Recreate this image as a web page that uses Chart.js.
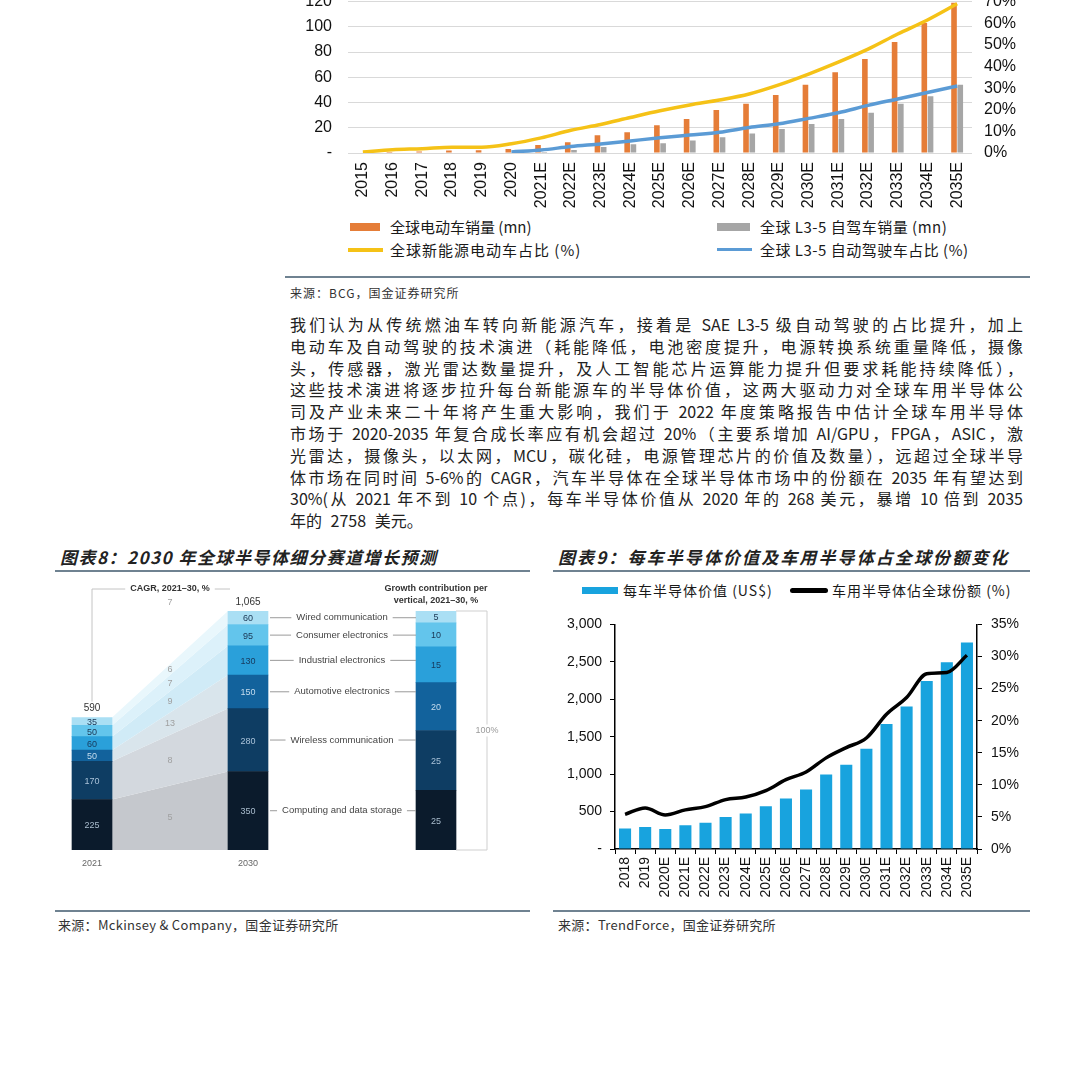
<!DOCTYPE html>
<html>
<head>
<meta charset="utf-8">
<script src="https://cdn.jsdelivr.net/npm/chart.js@4"></script>
<style>
body{margin:0;width:1080px;height:1080px;background:#fff;position:relative;overflow:hidden;font-family:"Noto Sans CJK SC","Liberation Sans",sans-serif;color:#1a1a1a}
canvas{position:absolute}
.rule{position:absolute;height:2px;background:#6f8291}
.src{position:absolute;font-size:13px;color:#333;white-space:nowrap;letter-spacing:0.3px}
.para{position:absolute;left:290px;top:314px;width:733px;font-size:16px;color:#222}
.para div{text-align:justify;text-align-last:justify;height:21.8px;line-height:21.8px;white-space:nowrap}
.para div.last{text-align-last:left;white-space:pre;word-spacing:5px}
.title{position:absolute;font-size:17px;font-weight:bold;font-style:italic;color:#222;white-space:nowrap}
.leg{position:absolute;display:flex;align-items:center;white-space:nowrap}
</style>
</head>
<body>

<canvas id="c1" width="740" height="237" style="left:290px;top:-24px"></canvas>

<div class="leg" style="left:350px;top:216px;font-size:15px;letter-spacing:0"><span style="display:inline-block;width:30px;height:8px;background:#e57d38;margin-right:10px"></span>全球电动车销量 (mn)</div>
<div class="leg" style="left:717px;top:216px;font-size:15px;letter-spacing:0.5px"><span style="display:inline-block;width:33px;height:8px;background:#a6a6a6;margin-right:10px"></span>全球 L3-5 自驾车销量 (mn)</div>
<div class="leg" style="left:348px;top:239px;font-size:15px;letter-spacing:1px"><span style="display:inline-block;width:35px;height:4px;background:#f5c217;margin-right:7px"></span>全球新能源电动车占比 (%)</div>
<div class="leg" style="left:717px;top:239px;font-size:15px;letter-spacing:0.5px"><span style="display:inline-block;width:35px;height:3px;background:#5b9bd5;margin-right:8px"></span>全球 L3-5 自动驾驶车占比 (%)</div>

<div class="rule" style="left:285px;top:276px;width:745px"></div>
<div class="src" style="left:290px;top:284px;font-size:12px;letter-spacing:1px">来源：BCG，国金证券研究所</div>

<div class="para">
<div>我们认为从传统燃油车转向新能源汽车，接着是 SAE L3-5 级自动驾驶的占比提升，加上</div>
<div>电动车及自动驾驶的技术演进（耗能降低，电池密度提升，电源转换系统重量降低，摄像</div>
<div>头，传感器，激光雷达数量提升，及人工智能芯片运算能力提升但要求耗能持续降低），</div>
<div>这些技术演进将逐步拉升每台新能源车的半导体价值，这两大驱动力对全球车用半导体公</div>
<div>司及产业未来二十年将产生重大影响，我们于 2022 年度策略报告中估计全球车用半导体</div>
<div>市场于 2020-2035 年复合成长率应有机会超过 20%（主要系增加 AI/GPU，FPGA，ASIC，激</div>
<div>光雷达，摄像头，以太网，MCU，碳化硅，电源管理芯片的价值及数量），远超过全球半导</div>
<div>体市场在同时间 5-6%的 CAGR，汽车半导体在全球半导体市场中的份额在 2035 年有望达到</div>
<div>30%(从 2021 年不到 10 个点)，每车半导体价值从 2020 年的 268 美元，暴增 10 倍到 2035</div>
<div class="last">年的 2758 美元。</div>
</div>

<div class="title" style="left:60px;top:544px;letter-spacing:1.5px">图表8：2030 年全球半导体细分赛道增长预测</div>
<div class="title" style="left:558px;top:544px;letter-spacing:2.1px">图表9：每车半导体价值及车用半导体占全球份额变化</div>
<div class="rule" style="left:55px;top:570px;width:475px"></div>
<div class="rule" style="left:553px;top:570px;width:477px"></div>

<canvas id="c8a" width="540" height="300" style="left:0;top:575px"></canvas>
<canvas id="c8b" width="540" height="300" style="left:0;top:575px"></canvas>

<div class="leg" style="left:582px;top:580px;font-size:14px;letter-spacing:1px"><span style="display:inline-block;width:36px;height:7px;background:#18a3de;margin-right:5px"></span>每车半导体价值 (US$)</div>
<div class="leg" style="left:790px;top:580px;font-size:14px;letter-spacing:1px"><span style="display:inline-block;width:38px;height:5px;background:#000;border-radius:3px;margin-right:4px"></span>车用半导体佔全球份额 (%)</div>

<canvas id="c9" width="477" height="300" style="left:553px;top:607px"></canvas>

<div class="rule" style="left:55px;top:910px;width:475px"></div>
<div class="rule" style="left:553px;top:910px;width:477px"></div>
<div class="src" style="left:58px;top:915px">来源：Mckinsey &amp; Company，国金证券研究所</div>
<div class="src" style="left:558px;top:915px">来源：TrendForce，国金证券研究所</div>

<script>
// ---- 全球电动车 / 自动驾驶 (BCG) ----
const evYears = ['2015','2016','2017','2018','2019','2020','2021E','2022E','2023E','2024E','2025E','2026E','2027E','2028E','2029E','2030E','2031E','2032E','2033E','2034E','2035E'];
const evSales = [0.4, 0.7, 1.2, 2.0, 2.1, 3.1, 6.3, 8.6, 14, 16.5, 22, 27, 34, 39, 46, 54, 64, 74.5, 88, 103, 119];
const l35Sales = [null, null, null, null, null, null, 0.8, 2.4, 4.7, 7, 7.8, 10, 12.5, 15.5, 19, 23, 27, 32, 39, 45, 54];
const nevShare = [0.5, 1.5, 2, 2.7, 2.7, 4.3, 7, 10.5, 13.2, 16.4, 19.5, 22.2, 24.5, 27.3, 31.5, 36.5, 42, 48, 55, 61.5, 69];
const l35Share = [null, null, null, null, null, 0.5, 1.4, 3, 4.2, 5.6, 7, 8.3, 9.6, 11.8, 13.5, 16, 18.6, 22, 25, 28, 31];

// ---- 图表8 (McKinsey) ----
const verticals = ['Computing and data storage','Wireless communication','Automotive electronics','Industrial electronics','Consumer electronics','Wired communication'];
const market2021 = [225, 170, 50, 60, 50, 35];
const market2030 = [350, 280, 150, 130, 95, 60];
const cagr = [5, 8, 13, 9, 7, 6];
const cagrTotal = 7;
const growthShare = [25, 25, 20, 15, 10, 5];

// ---- 图表9 (TrendForce) ----
const semiYears = ['2018','2019','2020E','2021E','2022E','2023E','2024E','2025E','2026E','2027E','2028E','2029E','2030E','2031E','2032E','2033E','2034E','2035E'];
const semiValue = [275, 295, 268, 318, 350, 429, 473, 570, 673, 796, 995, 1124, 1340, 1668, 1902, 2243, 2495, 2758];
const semiShare = [5.4, 6.4, 5.3, 6.1, 6.6, 7.7, 8.1, 9.1, 10.8, 12.0, 14.2, 15.8, 17.3, 21.0, 23.6, 27.3, 27.5, 30.2];

const ARIAL = '"Liberation Sans", Arial, sans-serif';
Chart.defaults.font.family = ARIAL;
Chart.defaults.animation = false;
Chart.defaults.responsive = false;

new Chart('c1', {
  type: 'bar',
  data: {
    labels: evYears,
    datasets: [
      {type: 'line', data: nevShare, yAxisID: 'y1', borderColor: '#f5c217', borderWidth: 3.5, pointRadius: 0, cubicInterpolationMode: 'monotone', order: 0},
      {type: 'line', data: l35Share, yAxisID: 'y1', borderColor: '#5b9bd5', borderWidth: 3.5, pointRadius: 0, cubicInterpolationMode: 'monotone', order: 0},
      {data: evSales, yAxisID: 'y', backgroundColor: '#e57d38', categoryPercentage: 0.42, barPercentage: 0.9, order: 1},
      {data: l35Sales, yAxisID: 'y', backgroundColor: '#a6a6a6', categoryPercentage: 0.42, barPercentage: 0.9, order: 1}
    ]
  },
  options: {
    plugins: {legend: {display: false}, tooltip: {enabled: false}},
    layout: {padding: 0},
    scales: {
      x: {
        grid: {display: false}, border: {display: false},
        ticks: {autoSkip: false, minRotation: 90, maxRotation: 90, padding: 1, color: '#111', font: {size: 16}},
        afterFit: s => { s.height = 60; }
      },
      y: {
        min: 0, max: 120,
        ticks: {autoSkip: false, stepSize: 20, padding: 16, color: '#111', font: {size: 16}, callback: v => v === 0 ? '-' : v},
        grid: {color: '#d9d9d9', drawTicks: false}, border: {display: false},
        afterFit: s => { s.width = 58; }
      },
      y1: {
        position: 'right', min: 0, max: 70,
        ticks: {autoSkip: false, stepSize: 10, padding: 4, color: '#111', font: {size: 16}, callback: v => v + '%'},
        grid: {display: false}, border: {display: false},
        afterFit: s => { s.width = 58; }
      }
    }
  }
});

// ---- 图表8 ----
const segColors = ['#0b1b2c', '#0e3d63', '#12629c', '#2aa0da', '#63c5ec', '#aadff4'];
const flowColors = ['#c5c8cd', '#d3d8de', '#d9e5ec', '#d0ebf7', '#dcf1fa', '#e9f7fc'];
const segText = ['#a9bccd', '#a9c2d8', '#c4dcee', '#17395c', '#1a3552', '#1a3552'];

const flowPlugin = {
  id: 'flows',
  beforeDatasetsDraw(chart) {
    const ctx = chart.ctx;
    ctx.save();
    chart.data.datasets.forEach((ds, i) => {
      const m = chart.getDatasetMeta(i).data;
      const a = m[0], b = m[1];
      ctx.fillStyle = flowColors[i];
      ctx.beginPath();
      ctx.moveTo(a.x + a.width / 2, a.y);
      ctx.lineTo(b.x - b.width / 2, b.y);
      ctx.lineTo(b.x - b.width / 2, b.base);
      ctx.lineTo(a.x + a.width / 2, a.base);
      ctx.closePath();
      ctx.fill();
    });
    ctx.restore();
  },
  afterDatasetsDraw(chart) {
    const ctx = chart.ctx;
    ctx.save();
    ctx.textAlign = 'center';
    ctx.textBaseline = 'middle';
    let midX = 0;
    chart.data.datasets.forEach((ds, i) => {
      const m = chart.getDatasetMeta(i).data;
      ctx.font = '9px ' + ARIAL;
      m.forEach((el, j) => {
        ctx.fillStyle = segText[i];
        ctx.fillText(ds.data[j], el.x, (el.y + el.base) / 2 + 1);
      });
      const a = m[0], b = m[1];
      midX = (a.x + a.width / 2 + b.x - b.width / 2) / 2;
      ctx.fillStyle = '#a0a0a0';
      ctx.fillText(cagr[i], midX, (a.y + a.base + b.y + b.base) / 4);
    });
    const n = chart.data.datasets.length;
    const top = chart.getDatasetMeta(n - 1).data;
    const tot21 = market2021.reduce((s, v) => s + v, 0);
    const tot30 = market2030.reduce((s, v) => s + v, 0);
    ctx.font = '10px ' + ARIAL;
    ctx.fillStyle = '#333';
    ctx.fillText(tot21.toLocaleString('en-US'), top[0].x, top[0].y - 9);
    ctx.fillText(tot30.toLocaleString('en-US'), top[1].x, top[1].y - 9);
    ctx.fillStyle = '#a0a0a0';
    ctx.font = '9px ' + ARIAL;
    ctx.fillText(cagrTotal, midX, chart.chartArea.top - 8);
    // CAGR header and bracket
    const hy = chart.chartArea.top - 22;
    ctx.font = 'bold 9px ' + ARIAL;
    ctx.fillStyle = '#333';
    const head = 'CAGR, 2021\u201330, %';
    const w = ctx.measureText(head).width;
    ctx.fillText(head, midX, hy);
    ctx.strokeStyle = '#c4c4c4';
    ctx.lineWidth = 1;
    ctx.beginPath();
    ctx.moveTo(top[0].x, top[0].y - 16);
    ctx.lineTo(top[0].x, hy);
    ctx.lineTo(midX - w / 2 - 5, hy);
    ctx.moveTo(midX + w / 2 + 5, hy);
    ctx.lineTo(top[1].x - 18, hy);
    ctx.stroke();
    ctx.restore();
  }
};

const chart8a = new Chart('c8a', {
  type: 'bar',
  data: {
    labels: ['2021', '2030'],
    datasets: verticals.map((v, i) => ({
      label: v,
      data: [market2021[i], market2030[i]],
      backgroundColor: segColors[i],
      barThickness: 40
    }))
  },
  options: {
    layout: {padding: {left: 14, right: 214, top: 36, bottom: 0}},
    plugins: {legend: {display: false}, tooltip: {enabled: false}},
    scales: {
      x: {
        stacked: true, grid: {display: false}, border: {display: false},
        ticks: {color: '#666', font: {size: 9}, padding: 0},
        afterFit: s => { s.height = 25; }
      },
      y: {stacked: true, display: false, min: 0, max: 1065}
    }
  },
  plugins: [flowPlugin]
});

const verticalPlugin = {
  id: 'verticals',
  afterDatasetsDraw(chart) {
    const ctx = chart.ctx;
    ctx.save();
    ctx.textAlign = 'center';
    ctx.textBaseline = 'middle';
    chart.data.datasets.forEach((ds, i) => {
      const g = chart.getDatasetMeta(i).data[0];
      ctx.font = '9px ' + ARIAL;
      ctx.fillStyle = segText[i];
      ctx.fillText(ds.data[0], g.x, (g.y + g.base) / 2 + 1);
      // label row tied to the 2030 segment
      const b = chart8a.getDatasetMeta(i).data[1];
      const y = (b.y + b.base) / 2;
      const xl = b.x + b.width / 2, xr = g.x - g.width / 2;
      const cx = (xl + xr) / 2;
      ctx.font = '9.5px ' + ARIAL;
      const w = ctx.measureText(verticals[i]).width;
      ctx.fillStyle = '#444';
      ctx.fillText(verticals[i], cx, y);
      ctx.strokeStyle = '#9a9a9a';
      ctx.lineWidth = 1;
      ctx.beginPath();
      ctx.moveTo(xl + 2, y); ctx.lineTo(cx - w / 2 - 5, y);
      ctx.moveTo(cx + w / 2 + 5, y); ctx.lineTo(xr, y);
      ctx.stroke();
    });
    const n = chart.data.datasets.length;
    const tp = chart.getDatasetMeta(n - 1).data[0];
    const bt = chart.getDatasetMeta(0).data[0];
    const ca = chart.chartArea;
    ctx.fillStyle = '#333';
    ctx.font = 'bold 9px ' + ARIAL;
    ctx.fillText('Growth contribution per', tp.x, ca.top - 22);
    ctx.fillText('vertical, 2021\u201330, %', tp.x, ca.top - 10);
    // 100% bracket
    const bx = tp.x + tp.width / 2 + 31;
    ctx.strokeStyle = '#cfcfcf';
    ctx.beginPath();
    ctx.moveTo(tp.x + tp.width / 2, tp.y);
    ctx.lineTo(bx, tp.y);
    ctx.lineTo(bx, bt.base);
    ctx.lineTo(tp.x + tp.width / 2, bt.base);
    ctx.stroke();
    const my = (tp.y + bt.base) / 2;
    ctx.font = '9px ' + ARIAL;
    const pw = ctx.measureText('100%').width;
    ctx.fillStyle = '#fff';
    ctx.fillRect(bx - pw / 2 - 2, my - 6, pw + 4, 12);
    ctx.fillStyle = '#9a9a9a';
    ctx.fillText('100%', bx, my);
    ctx.restore();
  }
};

new Chart('c8b', {
  type: 'bar',
  data: {
    labels: ['Growth contribution'],
    datasets: verticals.map((v, i) => ({
      label: v,
      data: [growthShare[i]],
      backgroundColor: segColors[i],
      barThickness: 40
    }))
  },
  options: {
    layout: {padding: {left: 396, right: 64, top: 36, bottom: 25}},
    plugins: {legend: {display: false}, tooltip: {enabled: false}},
    scales: {
      x: {stacked: true, display: false},
      y: {stacked: true, display: false, min: 0, max: 100}
    }
  },
  plugins: [verticalPlugin]
});

// ---- 图表9 ----
new Chart('c9', {
  type: 'bar',
  data: {
    labels: semiYears,
    datasets: [
      {type: 'line', data: semiShare, yAxisID: 'y1', borderColor: '#000', borderWidth: 3.5, pointRadius: 0, cubicInterpolationMode: 'monotone', order: 0},
      {data: semiValue, yAxisID: 'y', backgroundColor: '#18a3de', categoryPercentage: 1, barPercentage: 0.6, order: 1}
    ]
  },
  options: {
    layout: {padding: {top: 11}},
    plugins: {legend: {display: false}, tooltip: {enabled: false}},
    scales: {
      x: {
        grid: {drawOnChartArea: false, tickLength: 5, color: '#000'},
        border: {color: '#000', width: 1.5},
        ticks: {autoSkip: false, minRotation: 90, maxRotation: 90, padding: 3, color: '#111', font: {size: 14}},
        afterFit: s => { s.height = 58; }
      },
      y: {
        min: 0, max: 3000,
        ticks: {autoSkip: false, stepSize: 500, padding: 8, color: '#111', font: {size: 14}, callback: v => v === 0 ? '-' : v.toLocaleString('en-US')},
        grid: {drawOnChartArea: false, tickLength: 5, color: '#000'},
        border: {color: '#000', width: 1.5},
        afterFit: s => { s.width = 62; }
      },
      y1: {
        position: 'right', min: 0, max: 35,
        ticks: {autoSkip: false, stepSize: 5, padding: 9, color: '#111', font: {size: 14}, callback: v => v + '%'},
        grid: {drawOnChartArea: false, tickLength: 5, color: '#000'},
        border: {color: '#000', width: 1.5},
        afterFit: s => { s.width = 53; }
      }
    }
  }
});
</script>
</body>
</html>
